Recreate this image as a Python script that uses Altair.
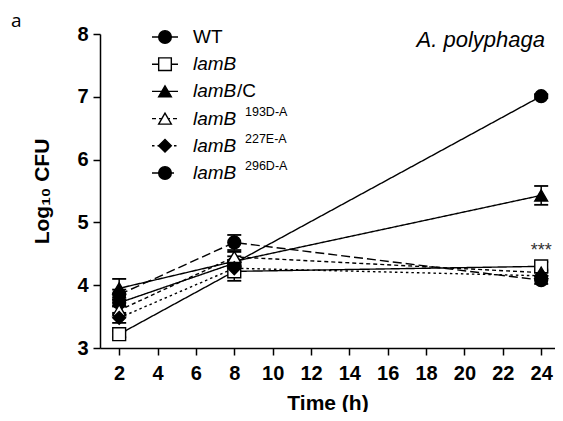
import altair as alt
import pandas as pd

# ---- data ----
strains = ["WT", "lamB", "lamB/C", "lamB 193D-A", "lamB 227E-A", "lamB 296D-A"]
times = [2, 8, 24]
wt_mean = [3.72, 4.35, 7.01]
lamb_mean = [3.22, 4.22, 4.30]
lambc_mean = [3.95, 4.38, 5.43]
m193_mean = [3.60, 4.45, 4.20]
m227_mean = [3.48, 4.27, 4.15]
m296_mean = [3.85, 4.68, 4.08]
wt_err = [0.05, 0.05, 0.03]
lamb_err = [0.05, 0.15, 0.07]
lambc_err = [0.15, 0.08, 0.15]
m193_err = [0.06, 0.08, 0.05]
m227_err = [0.08, 0.05, 0.05]
m296_err = [0.08, 0.12, 0.06]
x_ticks = [2, 4, 6, 8, 10, 12, 14, 16, 18, 20, 22, 24]
y_ticks = [3, 4, 5, 6, 7, 8]
sig_label = "***"
sig_strain = "lamB"
sig_time = 24

means = [wt_mean, lamb_mean, lambc_mean, m193_mean, m227_mean, m296_mean]
errs = [wt_err, lamb_err, lambc_err, m193_err, m227_err, m296_err]

rows = []
for s, ms, es in zip(strains, means, errs):
    for t, m, e in zip(times, ms, es):
        rows.append({"strain": s, "time": t, "cfu": m, "lo": m - e, "hi": m + e})
df = pd.DataFrame(rows)

# legend text parts derived from strain names
plain, ital, suffix, sup = [], [], [], []
for s in strains:
    if not s.startswith("lamB"):
        plain.append(s); ital.append(""); suffix.append(""); sup.append("")
    else:
        rest = s[4:]
        plain.append(""); ital.append("lamB")
        if rest.startswith(" "):
            suffix.append(""); sup.append(rest.strip())
        else:
            suffix.append(rest); sup.append("")
leg = pd.DataFrame({"strain": strains, "plain": plain, "ital": ital,
                    "suffix": suffix, "sup": sup})

sig_df = df[(df.strain == sig_strain) & (df.time == sig_time)].assign(label=sig_label)

FONT = "Liberation Sans"

shape_scale = alt.Scale(domain=strains,
                        range=["circle", "square", "triangle-up", "triangle-up", "diamond", "circle"])
fill_scale = alt.Scale(domain=strains,
                       range=["black", "white", "black", "white", "black", "black"])
dash_scale = alt.Scale(domain=strains,
                       range=[[1, 0], [1, 0], [1, 0], [4, 3], [2.5, 3], [9, 4]])

x_axis = alt.Axis(values=x_ticks, title="Time (h)", grid=False, tickSize=7,
                  labelPadding=8, titlePadding=9)
y_axis = alt.Axis(values=y_ticks, title="Log₁₀ CFU", grid=False, tickSize=7,
                  labelPadding=5, titlePadding=24)
x_scale = alt.Scale(domain=[1, 24.72], nice=False, zero=False)
y_scale = alt.Scale(domain=[3, 8], nice=False, zero=False)

X = alt.X("time:Q", scale=x_scale, axis=x_axis)
base = alt.Chart(df)

lines = base.mark_line(color="black", strokeWidth=1.4).encode(
    x=X,
    y=alt.Y("cfu:Q", scale=y_scale, axis=y_axis),
    strokeDash=alt.StrokeDash("strain:N", scale=dash_scale, legend=None),
    detail="strain:N",
)
err_v = base.mark_rule(color="black", strokeWidth=1.5).encode(
    x=X,
    y=alt.Y("lo:Q", scale=y_scale, axis=y_axis),
    y2="hi:Q",
)
cap_hi = base.mark_rule(color="black", strokeWidth=1.8, xOffset=-7, x2Offset=7).encode(
    x=X, x2="time:Q",
    y=alt.Y("hi:Q", scale=y_scale, axis=y_axis),
)
cap_lo = base.mark_rule(color="black", strokeWidth=1.8, xOffset=-7, x2Offset=7).encode(
    x=X, x2="time:Q",
    y=alt.Y("lo:Q", scale=y_scale, axis=y_axis),
)
points = base.mark_point(filled=True, stroke="black", strokeWidth=1.4, size=165, opacity=1).encode(
    x=X,
    y=alt.Y("cfu:Q", scale=y_scale, axis=y_axis),
    shape=alt.Shape("strain:N", scale=shape_scale, legend=None),
    fill=alt.Fill("strain:N", scale=fill_scale, legend=None),
)
stars = alt.Chart(sig_df).mark_text(font=FONT, fontSize=18, color="#333333",
                                    baseline="alphabetic", dy=-6).encode(
    x=X,
    y=alt.Y("hi:Q", scale=y_scale, axis=y_axis),
    text="label:N",
)

main = alt.layer(lines, err_v, cap_hi, cap_lo, points, stars)

# ---- legend (custom, to allow italic + superscript) ----
LY = alt.Y("strain:N", sort=strains, axis=None,
           scale=alt.Scale(type="point", range=[3, 139], padding=0))
lb = alt.Chart(leg)
leg_line = lb.mark_rule(color="black", strokeWidth=1.4).encode(
    x=alt.value(52), x2=alt.value(78), y=LY,
    strokeDash=alt.StrokeDash("strain:N", scale=dash_scale, legend=None),
)
leg_pt = lb.mark_point(filled=True, stroke="black", strokeWidth=1.4, size=160, opacity=1).encode(
    x=alt.value(65), y=LY,
    shape=alt.Shape("strain:N", scale=shape_scale, legend=None),
    fill=alt.Fill("strain:N", scale=fill_scale, legend=None),
)
leg_plain = lb.mark_text(font=FONT, fontSize=19, align="left", baseline="middle", color="black").encode(
    x=alt.value(93), y=LY, text="plain:N")
leg_ital = lb.mark_text(font=FONT, fontSize=19, fontStyle="italic", align="left",
                        baseline="middle", color="black").encode(
    x=alt.value(93), y=LY, text="ital:N")
leg_suffix = lb.mark_text(font=FONT, fontSize=19, align="left", baseline="middle", color="black").encode(
    x=alt.value(137), y=LY, text="suffix:N")
leg_sup = lb.mark_text(font=FONT, fontSize=12.5, align="left", baseline="middle",
                       color="black", dy=-7).encode(
    x=alt.value(145), y=LY, text="sup:N")
legend = alt.layer(leg_line, leg_pt, leg_plain, leg_ital, leg_suffix, leg_sup)

title_txt = alt.Chart(pd.DataFrame({"t": ["A. polyphaga"]})).mark_text(
    font=FONT, fontSize=22, fontStyle="italic", align="right", baseline="alphabetic", color="black"
).encode(x=alt.value(445), y=alt.value(13), text="t:N")

panel_txt = alt.Chart(pd.DataFrame({"t": ["a"]})).mark_text(
    font="Open Sans", fontSize=19, align="left", baseline="top", color="black"
).encode(x=alt.value(-89), y=alt.value(-22), text="t:N")

chart = alt.layer(main, legend, title_txt, panel_txt).resolve_scale(
    y="independent"
).properties(
    width=455, height=314,
    autosize=alt.AutoSizeParams(type="none"),
    padding={"left": 92, "top": 26, "right": 0, "bottom": 64},
).configure_view(stroke=None).configure_axis(
    domainColor="black", domainWidth=1.5, tickColor="black", tickWidth=1.5,
    labelFont=FONT, labelFontWeight="bold", labelFontSize=20, labelColor="black",
    titleFont=FONT, titleFontWeight="bold", titleFontSize=21, titleColor="black",
)

chart.save("out.html", embed_options={"renderer": "svg", "actions": False})
